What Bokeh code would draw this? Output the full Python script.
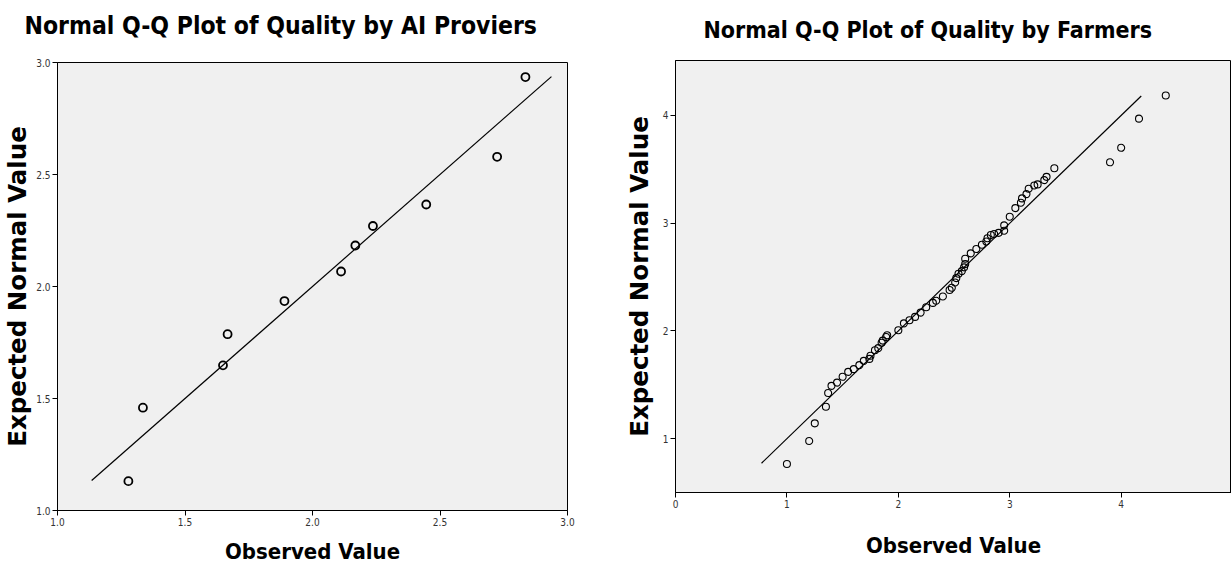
from bokeh.plotting import figure
from bokeh.layouts import row
from bokeh.models import Range1d, FixedTicker, CustomJSTickFormatter, Title
from bokeh.embed import file_html
from bokeh.resources import INLINE

# ---------------- data ----------------
ai_observed = [1.278, 1.335, 1.649, 1.667, 1.890, 2.112, 2.168, 2.237, 2.446, 2.724, 2.835]
ai_expected = [1.131, 1.459, 1.648, 1.787, 1.935, 2.067, 2.183, 2.270, 2.366, 2.579, 2.935]
ai_line_x = [1.134, 2.937]
ai_line_y = [1.134, 2.937]
ai_ticks = [1.0, 1.5, 2.0, 2.5, 3.0]
ai_title = "Normal Q-Q Plot of Quality by AI Proviers"

farm_observed = [1.00, 1.20, 1.25, 1.35, 1.37, 1.40, 1.45, 1.50, 1.55, 1.60,
                 1.65, 1.69, 1.74, 1.75, 1.79, 1.82, 1.85, 1.86, 1.89, 1.90,
                 2.00, 2.05, 2.10, 2.15, 2.20, 2.25, 2.31, 2.34, 2.40, 2.46,
                 2.48, 2.51, 2.52, 2.54, 2.57, 2.59, 2.60, 2.60, 2.65, 2.70,
                 2.75, 2.79, 2.80, 2.83, 2.86, 2.90, 2.95, 2.95, 3.00, 3.05,
                 3.10, 3.11, 3.15, 3.17, 3.22, 3.25, 3.31, 3.33, 3.40, 3.90,
                 4.00, 4.16, 4.40]
farm_expected = [0.765, 0.978, 1.142, 1.296, 1.423, 1.49, 1.52, 1.574, 1.62, 1.645,
                 1.682, 1.722, 1.74, 1.77, 1.82, 1.84, 1.89, 1.91, 1.944, 1.96,
                 2.006, 2.07, 2.099, 2.13, 2.17, 2.22, 2.26, 2.28, 2.32, 2.38,
                 2.40, 2.45, 2.49, 2.53, 2.555, 2.59, 2.62, 2.67, 2.72, 2.76,
                 2.80, 2.83, 2.86, 2.89, 2.90, 2.91, 2.93, 2.98, 3.06, 3.14,
                 3.19, 3.23, 3.27, 3.32, 3.35, 3.36, 3.40, 3.43, 3.51, 3.565,
                 3.70, 3.97, 4.185]
farm_line_x = [0.772, 4.18]
farm_line_y = [0.772, 4.18]
farm_xticks = [0, 1, 2, 3, 4]
farm_yticks = [1, 2, 3, 4]
farm_title = "Normal Q-Q Plot of Quality by Farmers"

x_title = "Observed Value"
y_title = "Expected Normal Value"

TITLE_FONT = "DejaVu Sans Condensed"
TICK_FONT = "DejaVu Sans Condensed"
BOLD_WIDE = "DejaVu Sans"


def style(p, xticks, yticks, fmt):
    try:
        p.frame_align = False
    except Exception:
        pass
    p.background_fill_color = "#F0F0F0"
    p.border_fill_color = "white"
    p.outline_line_color = "black"
    p.outline_line_width = 1
    p.grid.visible = False
    for ax in (p.xaxis[0], p.yaxis[0]):
        ax.axis_line_color = "black"
        ax.major_tick_line_color = "black"
        ax.major_tick_out = 5
        ax.major_tick_in = 0
        ax.minor_tick_line_color = None
        ax.major_label_text_font = TICK_FONT
        ax.major_label_text_font_size = "10px"
        ax.major_label_text_color = "#333333"
        ax.major_label_standoff = 2
        ax.axis_label_text_font_style = "bold"
        ax.axis_label_text_color = "black"
    p.xaxis[0].ticker = FixedTicker(ticks=xticks)
    p.yaxis[0].ticker = FixedTicker(ticks=yticks)
    if fmt:
        p.xaxis[0].formatter = CustomJSTickFormatter(code="return tick.toFixed(1);")
        p.yaxis[0].formatter = CustomJSTickFormatter(code="return tick.toFixed(1);")
    p.xaxis[0].axis_label_text_font = TITLE_FONT
    p.xaxis[0].axis_label_text_font_size = "22px"
    p.yaxis[0].axis_label_text_font = BOLD_WIDE
    p.yaxis[0].axis_label_text_font_size = "24.5px"


def add_title(p, text, xoff, standoff, size):
    p.add_layout(Title(text=text, text_font=TITLE_FONT, text_font_size=size,
                       text_font_style="bold", text_color="black", align="left",
                       vertical_align="top", offset=xoff, standoff=standoff), "above")


# ---------------- left plot ----------------
p1 = figure(width=620, height=568, output_backend="svg", toolbar_location=None,
            x_range=Range1d(1.0, 3.0), y_range=Range1d(1.0, 3.0),
            min_border_left=55, min_border_right=53, min_border_top=62, min_border_bottom=58,
            x_axis_label=x_title, y_axis_label=y_title)
style(p1, ai_ticks, ai_ticks, True)
p1.xaxis[0].axis_label_standoff = 10
p1.yaxis[0].axis_label_standoff = 1
# spacer (empty) title closest to the frame, then the real title above it
p1.add_layout(Title(text=" ", text_font_size="1px", standoff=17), "above")
add_title(p1, ai_title, -33, 2, "24.5px")
p1.line(ai_line_x, ai_line_y, line_color="black", line_width=1.2)
p1.scatter(ai_observed, ai_expected, marker="circle", size=8, fill_color=None,
           line_color="black", line_width=1.8)

# ---------------- right plot ----------------
p2 = figure(width=611, height=568, output_backend="svg", toolbar_location=None,
            x_range=Range1d(0, 4.99), y_range=Range1d(0.5, 4.51),
            min_border_left=55, min_border_right=0, min_border_top=60, min_border_bottom=76,
            x_axis_label=x_title, y_axis_label=y_title)
style(p2, farm_xticks, farm_yticks, False)
p2.xaxis[0].axis_label_standoff = 22
p2.yaxis[0].axis_label_standoff = 6
add_title(p2, farm_title, 28, 31, "23px")
p2.line(farm_line_x, farm_line_y, line_color="black", line_width=1.2)
p2.scatter(farm_observed, farm_expected, marker="circle", size=7, fill_color=None,
           line_color="black", line_width=1.1)

layout = row(p1, p2, spacing=0)
open("out.html", "w").write(file_html(layout, INLINE))
